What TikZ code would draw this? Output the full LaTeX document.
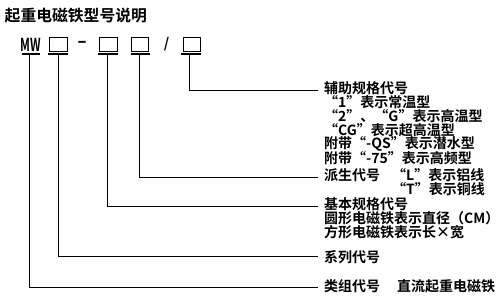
\documentclass[tikz,border=0pt]{standalone}
\usepackage{fontspec}
\setmainfont{Noto Sans CJK SC}[BoldFont={* Bold}]
\newcommand{\ql}{\makebox[1em][r]{“}}
\newcommand{\qr}{\makebox[1em][l]{”}}
\begin{document}
\begin{tikzpicture}[x=1pt,y=-1pt,
  lbl/.style={anchor=west,inner sep=0pt,font=\fontsize{14}{14}\selectfont\bfseries},
  box/.style={draw,line width=1pt},
  uline/.style={line width=1.2pt},
  conn/.style={line width=1pt}]
\useasboundingbox (0,0) rectangle (500,300);
% title
\node[anchor=west,inner sep=0pt,font=\fontsize{15.8}{16}\selectfont\bfseries] (title) at (4.5,15.5) {起重电磁铁型号说明};
% model code row
\node[inner sep=0pt,font=\fontsize{17}{17}\selectfont\bfseries] (mw) at (30.8,45.3) {\scalebox{0.68}[1.05]{MW}};
\node[box,minimum width=18pt,minimum height=14pt,inner sep=0pt] (b1) at (58,44) {};
\node[inner sep=0pt,font=\fontsize{18}{18}\selectfont\bfseries] (dash) at (82,44) {\scalebox{1.5}[1]{-}};
\node[box,minimum width=18pt,minimum height=14pt,inner sep=0pt] (b2) at (108,44) {};
\node[box,minimum width=17pt,minimum height=14pt,inner sep=0pt] (b3) at (140,44) {};
\node[inner sep=0pt,font=\fontsize{14}{14}\selectfont\bfseries] (slash) at (166.5,44) {/};
\node[box,minimum width=17pt,minimum height=14pt,inner sep=0pt] (b4) at (191.5,44) {};
% underlines
\draw[uline] (21.5,54) -- (40,54);
\draw[uline] (48,54) -- (68,54);
\draw[uline] (98,54) -- (117.5,54);
\draw[uline] (131,54) -- (150,54);
\draw[uline] (181,54) -- (201,54);
\coordinate (u0) at (29.3,54.6);
\coordinate (u1) at (58.3,54.6);
\coordinate (u2) at (107.3,54.6);
\coordinate (u3) at (139.3,54.6);
\coordinate (u4) at (189.8,54.6);
% right texts
\node[lbl] (t4a) at (324,88) {辅助规格代号};
\node[lbl] (t4b) at (324,102) {\ql 1\qr 表示常温型};
\node[lbl] (t4c) at (324,116) {\ql 2\qr 、\ql G\qr 表示高温型};
\node[lbl] (t4d) at (324,130) {\ql CG\qr 表示超高温型};
\node[lbl] (t4e) at (324,144) {附带\ql -QS\qr 表示潜水型};
\node[lbl] (t4f) at (324,158) {附带\ql -75\qr 表示高频型};
\node[lbl] (t3a) at (324,175) {派生代号};
\node[lbl] (t3b) at (392,175) {\ql L\qr 表示铝线};
\node[lbl] (t3c) at (392,189) {\ql T\qr 表示铜线};
\node[lbl] (t2a) at (324,204) {基本规格代号};
\node[lbl] (t2b) at (324,218) {圆形电磁铁表示直径（CM）};
\node[lbl] (t2c) at (324,232) {方形电磁铁表示长×宽};
\node[lbl] (t1a) at (324,257) {系列代号};
\node[lbl] (t0a) at (324,286) {类组代号};
\node[lbl] (t0b) at (397,286) {直流起重电磁铁};
% connector ends
\coordinate (e4) at (318,90.5);
\coordinate (e3) at (318,177.3);
\coordinate (e2) at (318,206);
\coordinate (e1) at (318,256.5);
\coordinate (e0) at (318,287.3);
\draw[conn] (u4) |- (e4);
\draw[conn] (u3) |- (e3);
\draw[conn] (u2) |- (e2);
\draw[conn] (u1) |- (e1);
\draw[conn] (u0) |- (e0);
\end{tikzpicture}
\end{document}
